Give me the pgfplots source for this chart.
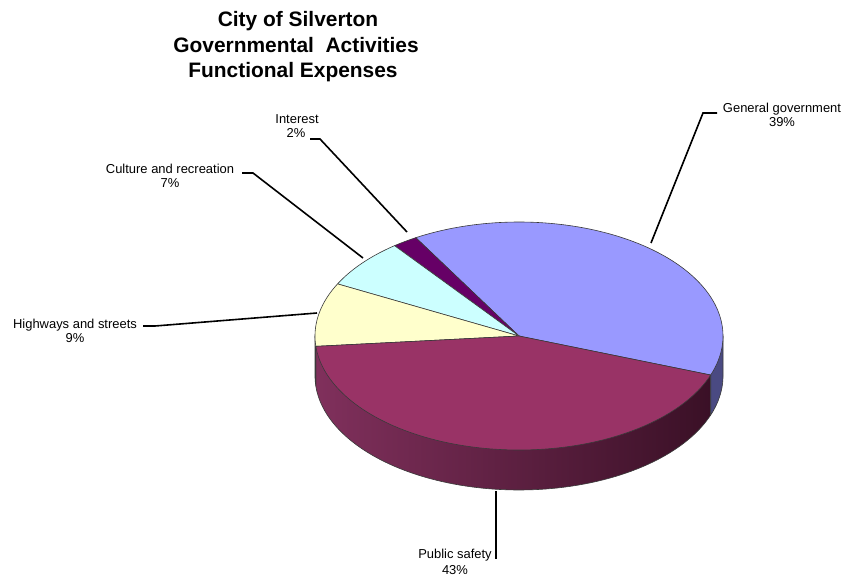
\documentclass[border=0pt]{standalone}
\usepackage{pgfplots}
\pgfplotsset{compat=1.18}
\usepackage{pgfplotstable}
\usepackage{fontspec}
\setmainfont{Liberation Sans}

\definecolor{cGov}{HTML}{9999FF}
\definecolor{cInt}{HTML}{660066}
\definecolor{cCul}{HTML}{CCFFFF}
\definecolor{cHwy}{HTML}{FFFFCC}
\definecolor{cPub}{HTML}{993366}
\definecolor{sGov}{HTML}{4A4A82}
\definecolor{sHwy}{HTML}{C8C89C}
\definecolor{sPubL}{HTML}{80305C}
\definecolor{sPubR}{HTML}{3A1026}
\definecolor{edge}{HTML}{3A3A3A}

% percentages of the functional expenses
\pgfplotstableread{
name pct
Gov 39
Int 2
Cul 7
Hwy 9
Pub 43
}\piedata
\pgfplotstablegetelem{0}{pct}\of\piedata \let\pGov\pgfplotsretval
\pgfplotstablegetelem{1}{pct}\of\piedata \let\pInt\pgfplotsretval
\pgfplotstablegetelem{2}{pct}\of\piedata \let\pCul\pgfplotsretval
\pgfplotstablegetelem{3}{pct}\of\piedata \let\pHwy\pgfplotsretval
\pgfplotstablegetelem{4}{pct}\of\piedata \let\pPub\pgfplotsretval

% geometry (pixel units)
\def\cx{519}\def\cy{336}\def\rx{204}\def\ry{114}\def\dep{40}
\pgfmathsetmacro\aA{-20}
\pgfmathsetmacro\aB{\aA+3.6*\pGov}
\pgfmathsetmacro\aC{\aB+3.6*\pInt}
\pgfmathsetmacro\aD{\aC+3.6*\pCul}
\pgfmathsetmacro\aE{\aD+3.6*\pHwy}
\pgfmathsetmacro\aF{\aE+3.6*\pPub}
\pgfmathsetmacro\cyb{\cy+\dep}
% top points at slice borders
\pgfmathsetmacro\xAt{\cx+\rx*cos(\aF)}\pgfmathsetmacro\yAt{\cy-\ry*sin(\aF)}
\pgfmathsetmacro\xEt{\cx+\rx*cos(\aE)}\pgfmathsetmacro\yEt{\cy-\ry*sin(\aE)}
\pgfmathsetmacro\xLt{\cx-\rx}\pgfmathsetmacro\xRt{\cx+\rx}

\begin{document}
\begin{tikzpicture}[
  lbl/.style={anchor=base, inner sep=0pt, font=\fontsize{13}{15}\selectfont},
  ttl/.style={anchor=base, inner sep=0pt, font=\fontsize{21}{25}\selectfont\bfseries},
  lead/.style={line width=1.6bp, black},
]
\begin{axis}[
  scale only axis, width=844bp, height=577bp,
  xmin=0, xmax=844, ymin=0, ymax=577, y dir=reverse,
  hide axis, clip=false,
  every axis plot/.append style={line width=0.6bp, draw=edge, samples=90, variable=\t},
]
% ---- sides (front half) ----
\addplot[left color=sPubL, right color=sPubR, domain=\aE:\aF]
  ({\cx+\rx*cos(t)},{\cyb-\ry*sin(t)}) -- (\xAt,\yAt) -- (\cx,\cy) -- (\xEt,\yEt) -- cycle;
\addplot[fill=sGov, domain=\aF:360]
  ({\cx+\rx*cos(t)},{\cyb-\ry*sin(t)}) -- (\xRt,\cy) -- (\cx,\cy) -- (\xAt,\yAt) -- cycle;
\addplot[fill=sHwy, domain=180:\aE]
  ({\cx+\rx*cos(t)},{\cyb-\ry*sin(t)}) -- (\xEt,\yEt) -- (\cx,\cy) -- (\xLt,\cy) -- cycle;
% ---- top faces ----
\addplot[fill=cGov, domain=\aA:\aB] ({\cx+\rx*cos(t)},{\cy-\ry*sin(t)}) -- (\cx,\cy) -- cycle;
\addplot[fill=cInt, domain=\aB:\aC] ({\cx+\rx*cos(t)},{\cy-\ry*sin(t)}) -- (\cx,\cy) -- cycle;
\addplot[fill=cCul, domain=\aC:\aD] ({\cx+\rx*cos(t)},{\cy-\ry*sin(t)}) -- (\cx,\cy) -- cycle;
\addplot[fill=cHwy, domain=\aD:\aE] ({\cx+\rx*cos(t)},{\cy-\ry*sin(t)}) -- (\cx,\cy) -- cycle;
\addplot[fill=cPub, domain=\aE:\aF] ({\cx+\rx*cos(t)},{\cy-\ry*sin(t)}) -- (\cx,\cy) -- cycle;

% ---- leader lines ----
\draw[lead] (717,113) -- (703,113) -- (651,243);
\draw[lead] (310,139) -- (320,139) -- (407,232);
\draw[lead] (242,173) -- (253,173) -- (363,258);
\draw[lead] (143,326) -- (155,326) -- (317,313);
\draw[lead] (496,491) -- (496,559);

% ---- labels ----
\node[lbl] at (782,113) {General government};
\node[lbl] at (782,127) {39\%};
\node[lbl] at (297,124) {Interest};
\node[lbl] at (296,138) {2\%};
\node[lbl] at (170,173) {Culture and recreation};
\node[lbl] at (170,187) {7\%};
\node[lbl] at (75,328) {Highways and streets};
\node[lbl] at (75,342) {9\%};
\node[lbl] at (455,558) {Public safety};
\node[lbl] at (455,574) {43\%};
\node[ttl] at (298,27) {City of Silverton};
\node[ttl] at (296,53) {Governmental\ \ Activities};
\node[ttl] at (293,78) {Functional Expenses};
\end{axis}
\pgfresetboundingbox
\useasboundingbox (0,0) rectangle (844bp,577bp);
\end{tikzpicture}
\end{document}
